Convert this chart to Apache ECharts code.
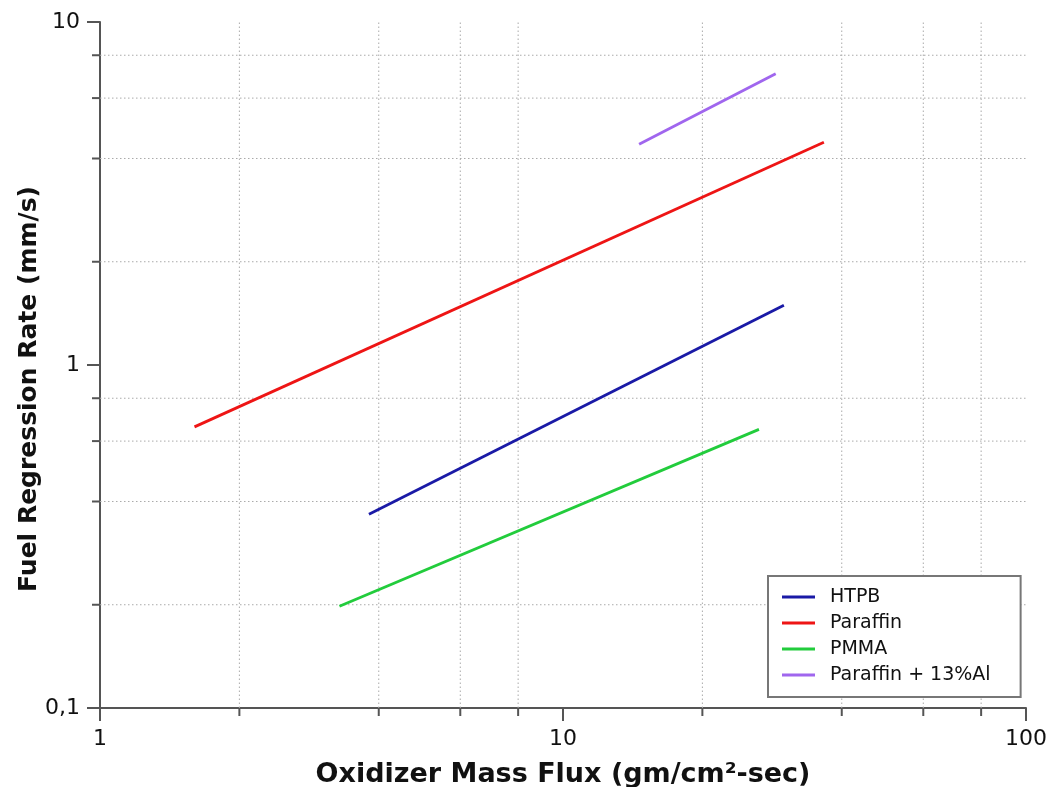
<!DOCTYPE html>
<html>
<head>
<meta charset="utf-8">
<script src="https://cdn.jsdelivr.net/npm/echarts@6/dist/echarts.min.js"></script>
<style>
  html, body { margin: 0; padding: 0; background: #fff; }
  #chart { width: 1048px; height: 787px; }
</style>
</head>
<body>
<div id="chart"></div>
<script>
// end points of each regression line, [mass flux, regression rate]
var htpb = [[3.81, 0.367], [30.0, 1.494]];
var paraffin = [[1.6, 0.66], [36.6, 4.46]];
var pmma = [[3.29, 0.198], [26.5, 0.649]];
var paraffinAl = [[14.6, 4.40], [28.8, 7.07]];

var seriesNames = ['HTPB', 'Paraffin', 'PMMA', 'Paraffin + 13%Al'];
var seriesColors = ['#1a1aa6', '#ee1515', '#22cc3c', '#a066ee'];

// minor grid lines / ticks
var xMinor = [2, 4, 6, 8, 20, 40, 60, 80];
var yMinor = [0.2, 0.4, 0.6, 0.8, 2, 4, 6, 8];

var xMin = 1, xMax = 100, yMin = 0.1, yMax = 10;
var axisColor = '#555';
var font = 'DejaVu Sans';

var myChart = echarts.init(document.getElementById('chart'));

function minorX(params, api) {
    var v = api.value(0);
    var p0 = api.coord([v, yMin]);
    var p1 = api.coord([v, yMax]);
    return {
        type: 'group',
        children: [
            { type: 'line', shape: { x1: p0[0], y1: p0[1], x2: p1[0], y2: p1[1] },
              style: { stroke: '#aaa', lineWidth: 1, lineDash: [1.5, 2.5] } },
            { type: 'line', shape: { x1: p0[0], y1: p0[1], x2: p0[0], y2: p0[1] + 8 },
              style: { stroke: axisColor, lineWidth: 2 } }
        ]
    };
}

function minorY(params, api) {
    var v = api.value(1);
    var p0 = api.coord([xMin, v]);
    var p1 = api.coord([xMax, v]);
    return {
        type: 'group',
        children: [
            { type: 'line', shape: { x1: p0[0], y1: p0[1], x2: p1[0], y2: p1[1] },
              style: { stroke: '#aaa', lineWidth: 1, lineDash: [1.5, 2.5] } },
            { type: 'line', shape: { x1: p0[0], y1: p0[1], x2: p0[0] - 8, y2: p0[1] },
              style: { stroke: axisColor, lineWidth: 2 } }
        ]
    };
}

var lineData = [htpb, paraffin, pmma, paraffinAl];
var lines = lineData.map(function (d, i) {
    return {
        name: seriesNames[i],
        type: 'line',
        data: d,
        symbol: 'none',
        z: 5,
        lineStyle: { color: seriesColors[i], width: 2.8 },
        itemStyle: { color: seriesColors[i] }
    };
});

myChart.setOption({
    animation: false,
    backgroundColor: '#fff',
    grid: { left: 100, right: 22, top: 22, bottom: 79, outerBoundsMode: 'none' },
    graphic: [{
        // y axis title (sits a bit below the axis middle)
        type: 'text',
        x: 29,
        y: 389,
        rotation: Math.PI / 2,
        style: {
            text: 'Fuel Regression Rate (mm/s)',
            font: 'bold 25px "DejaVu Sans"',
            fill: '#111',
            align: 'center',
            verticalAlign: 'middle'
        }
    }],
    legend: {
        data: seriesNames,
        orient: 'vertical',
        left: 768,
        top: 576,
        padding: [10, 30, 11, 14],
        itemGap: 4,
        itemWidth: 33,
        itemHeight: 3,
        icon: 'rect',
        backgroundColor: '#fff',
        borderColor: '#777',
        borderWidth: 2,
        textStyle: { fontFamily: font, fontSize: 19, lineHeight: 22, color: '#111', padding: [0, 0, 0, 10] }
    },
    xAxis: {
        type: 'log',
        logBase: 10,
        min: xMin,
        max: xMax,
        name: 'Oxidizer Mass Flux (gm/cm²-sec)',
        nameLocation: 'middle',
        nameGap: 53,
        nameTextStyle: { fontFamily: font, fontSize: 27, fontWeight: 'bold', color: '#111' },
        axisLine: { lineStyle: { color: axisColor, width: 2 } },
        axisTick: { length: 13, lineStyle: { color: axisColor, width: 2 } },
        axisLabel: { fontFamily: font, fontSize: 22, color: '#111', margin: 20 },
        splitLine: { show: false },
        minorTick: { show: false },
        minorSplitLine: { show: false }
    },
    yAxis: {
        type: 'log',
        logBase: 10,
        min: yMin,
        max: yMax,
        axisLine: { show: true, lineStyle: { color: axisColor, width: 2 } },
        axisTick: { show: true, length: 13, lineStyle: { color: axisColor, width: 2 } },
        axisLabel: {
            fontFamily: font, fontSize: 22, color: '#111', margin: 20,
            formatter: function (v) { return String(+v.toPrecision(6)).replace('.', ','); }
        },
        splitLine: { show: false }
    },
    series: [
        {
            type: 'custom',
            silent: true,
            z: 1,
            clip: false,
            renderItem: minorX,
            data: xMinor.map(function (v) { return [v, 1]; })
        },
        {
            type: 'custom',
            silent: true,
            z: 1,
            clip: false,
            renderItem: minorY,
            data: yMinor.map(function (v) { return [1, v]; })
        }
    ].concat(lines)
});
window.onresize = myChart.resize;
</script>
</body>
</html>
